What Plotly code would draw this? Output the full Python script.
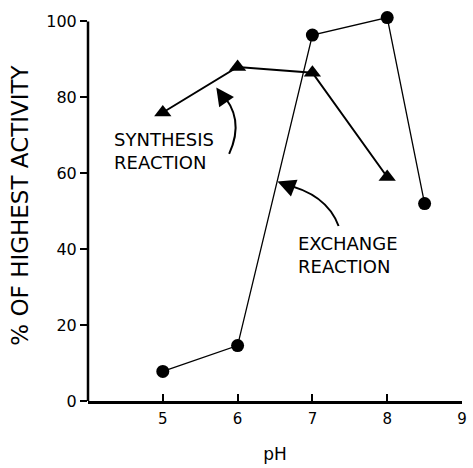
import plotly.graph_objects as go

ph_exchange = [5, 6, 7, 8, 8.5]
exchange = [7.8, 14.6, 96.4, 101, 52]
ph_synthesis = [5, 6, 7, 8]
synthesis = [76, 88, 86.5, 59]
x_ticks = [5, 6, 7, 8, 9]
y_ticks = [0, 20, 40, 60, 80, 100]

FONT = "DejaVu Sans"

fig = go.Figure()
fig.add_trace(go.Scatter(x=ph_exchange, y=exchange, mode="lines+markers",
                         line=dict(color="black", width=1.3),
                         marker=dict(symbol="circle", size=13, color="black"),
                         cliponaxis=False, showlegend=False))
fig.add_trace(go.Scatter(x=ph_synthesis, y=synthesis, mode="lines+markers",
                         line=dict(color="black", width=2),
                         marker=dict(symbol="triangle-up", size=15, color="black"),
                         cliponaxis=False, showlegend=False))

# y axis line drawn only from 0 to 100
fig.add_shape(type="line", xref="paper", yref="y", x0=0, x1=0, y0=0, y1=100,
              line=dict(color="black", width=2.5))

# curved arrow bodies
fig.add_shape(type="path", path="M 5.887 65.1 Q 6.11 74.7 5.76 81.5",
              line=dict(color="black", width=2), xref="x", yref="y")
fig.add_shape(type="path", path="M 7.35 46.1 Q 7.19 54.7 6.6 57.2",
              line=dict(color="black", width=2), xref="x", yref="y")
# arrowheads
fig.add_annotation(x=5.715, y=82.6, ax=5.80, ay=80.2, xref="x", yref="y",
                   axref="x", ayref="y", text="", showarrow=True,
                   arrowhead=2, arrowsize=1.8, arrowwidth=2, arrowcolor="black")
fig.add_annotation(x=6.533, y=57.8, ax=6.65, ay=56.9, xref="x", yref="y",
                   axref="x", ayref="y", text="", showarrow=True,
                   arrowhead=2, arrowsize=1.8, arrowwidth=2, arrowcolor="black")

fig.add_annotation(x=5.02, y=65.8, xref="x", yref="y", text="SYNTHESIS<br>REACTION",
                   showarrow=False, align="left",
                   font=dict(family=FONT, size=18, color="black"))
fig.add_annotation(x=7.48, y=38.5, xref="x", yref="y", text="EXCHANGE<br>REACTION",
                   showarrow=False, align="left",
                   font=dict(family=FONT, size=18, color="black"))

fig.update_layout(
    width=473, height=468,
    margin=dict(l=88, r=6, t=10, b=63),
    plot_bgcolor="white", paper_bgcolor="white",
    font=dict(family=FONT, color="black"),
)
fig.update_xaxes(range=[4, 9], tickvals=x_ticks, ticks="inside", ticklen=7,
                 tickwidth=1.5, tickcolor="black", showline=True, linewidth=2.5,
                 linecolor="black", showgrid=False, zeroline=False,
                 ticklabelstandoff=2, ticklabeloverflow="allow",
                 tickfont=dict(size=15), title=dict(text="pH", font=dict(size=17), standoff=22))
fig.update_yaxes(range=[0, 103], tickvals=y_ticks, ticks="outside", ticklen=7,
                 tickwidth=1.5, tickcolor="black", showline=False,
                 showgrid=False, zeroline=False,
                 tickfont=dict(size=16),
                 title=dict(text="% OF HIGHEST ACTIVITY", font=dict(size=23), standoff=11))

fig.write_html("out.html",
               config={"displayModeBar": False},
               post_script=("document.body.style.margin='0';"
                            "document.body.style.overflow='hidden';"
                            "document.documentElement.style.overflow='hidden';"
                            "window.scrollTo(0,0);"))
